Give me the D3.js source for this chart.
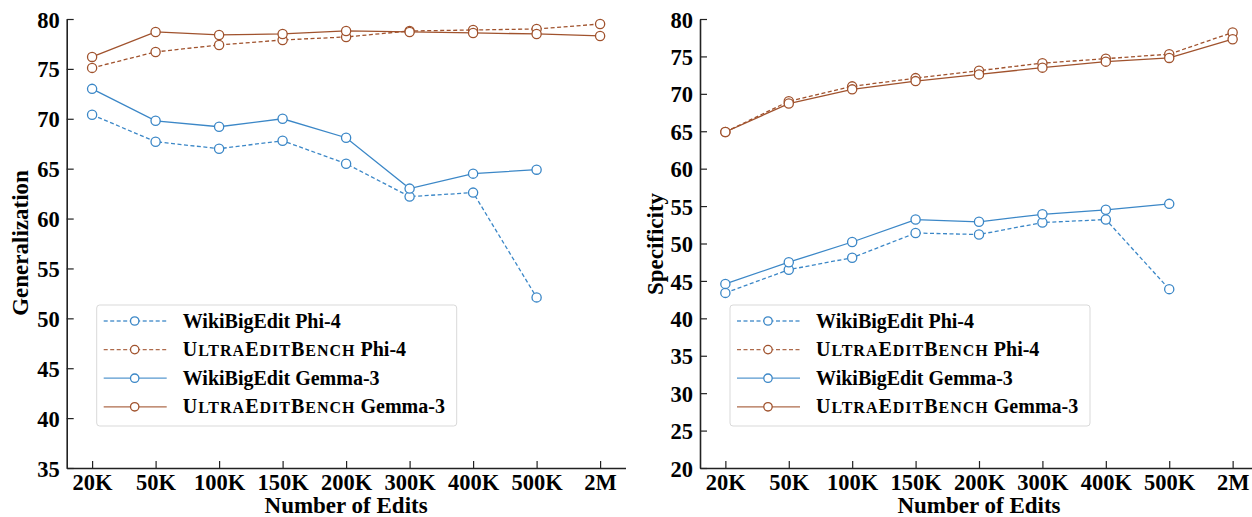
<!DOCTYPE html>
<html>
<head>
<meta charset="utf-8">
<script src="https://cdn.jsdelivr.net/npm/d3@7"></script>
<style>
  body { margin: 0; background: #fff; }
</style>
</head>
<body>
<svg id="chart" width="1252" height="517"></svg>
<script>
// Data
const edits = ['20K', '50K', '100K', '150K', '200K', '300K', '400K', '500K', '2M'];

const genWikiPhi = [70.4, 67.7, 67.0, 67.8, 65.5, 62.2, 62.6, 52.1];
const genUltraPhi = [75.1, 76.7, 77.4, 77.9, 78.2, 78.8, 78.9, 79.0, 79.5];
const genWikiGemma = [73.0, 69.8, 69.2, 70.0, 68.1, 63.0, 64.5, 64.9];
const genUltraGemma = [76.2, 78.7, 78.4, 78.5, 78.8, 78.7, 78.6, 78.5, 78.3];

const specWikiPhi = [43.4, 46.5, 48.1, 51.4, 51.2, 52.8, 53.2, 43.9];
const specUltraPhi = [64.9, 69.0, 71.0, 72.1, 73.1, 74.1, 74.7, 75.3, 78.2];
const specWikiGemma = [44.6, 47.5, 50.2, 53.2, 52.9, 53.9, 54.5, 55.3];
const specUltraGemma = [64.9, 68.7, 70.6, 71.7, 72.6, 73.5, 74.3, 74.8, 77.3];

const genTicks = [35, 40, 45, 50, 55, 60, 65, 70, 75, 80];
const specTicks = [20, 25, 30, 35, 40, 45, 50, 55, 60, 65, 70, 75, 80];

const blue = '#3b87c7';
const brown = '#a0522d';
const serif = "'Liberation Serif', 'Times New Roman', serif";

const legendItems = [
  { name: 'WikiBigEdit', model: 'Phi-4', color: blue, dash: '4,2.5', small: false },
  { name: 'UltraEditBench', model: 'Phi-4', color: brown, dash: '4,2.5', small: true },
  { name: 'WikiBigEdit', model: 'Gemma-3', color: blue, dash: null, small: false },
  { name: 'UltraEditBench', model: 'Gemma-3', color: brown, dash: null, small: true }
];

const svg = d3.select('#chart');

// small caps by hand: capitals full size, lower case drawn as smaller capitals
function addSmallCaps(textSel, str, size) {
  let runs = [];
  for (const ch of str) {
    const big = ch === ch.toUpperCase();
    const last = runs[runs.length - 1];
    if (last && last.big === big) last.s += ch;
    else runs.push({ big: big, s: ch });
  }
  runs.forEach(r => {
    textSel.append('tspan')
      .style('font-size', (r.big ? size : size * 0.8) + 'px')
      .style('letter-spacing', '1px')
      .text(r.s.toUpperCase());
  });
}

function drawPanel(opts) {
  const g = svg.append('g');

  const x = d3.scalePoint()
    .domain(edits)
    .range([opts.left, opts.right])
    .padding(0.4);

  const y = d3.scaleLinear()
    .domain(opts.yDomain)
    .range([opts.bottom, opts.top]);

  // axes (ticks pointing inward, like matplotlib direction='in')
  const xAxis = g.append('g')
    .attr('transform', 'translate(0,' + opts.bottom + ')')
    .call(d3.axisBottom(x).tickSizeInner(-7).tickSizeOuter(0));
  const yAxis = g.append('g')
    .attr('transform', 'translate(' + opts.left + ',0)')
    .call(d3.axisLeft(y).tickValues(opts.ticks).tickSizeInner(-7).tickSizeOuter(0).tickPadding(7));

  [xAxis, yAxis].forEach(a => {
    a.attr('font-family', null).attr('font-size', null);
    a.select('.domain').attr('stroke', '#222').attr('stroke-width', 1.6);
    a.selectAll('.tick line').attr('stroke', '#222').attr('stroke-width', 1.2);
    a.selectAll('.tick text')
      .attr('fill', '#000')
      .style('font-family', serif)
      .style('font-weight', 'bold')
      .style('font-size', '22.5px');
  });
  xAxis.selectAll('.tick text').attr('y', 21.5).attr('dy', 0);
  yAxis.selectAll('.tick text').attr('dy', '0.36em');

  g.append('text')
    .attr('x', (opts.left + opts.right) / 2)
    .attr('y', 513)
    .attr('text-anchor', 'middle')
    .style('font-family', serif)
    .style('font-weight', 'bold')
    .style('font-size', '23px')
    .text('Number of Edits');

  g.append('text')
    .attr('transform', 'translate(' + opts.titleX + ',' + opts.titleY + ') rotate(-90)')
    .attr('text-anchor', 'middle')
    .style('font-family', serif)
    .style('font-weight', 'bold')
    .style('font-size', '23px')
    .text(opts.title);

  const line = d3.line()
    .x((d, i) => x(edits[i]))
    .y(d => y(d));

  opts.series.forEach((vals, k) => {
    const item = legendItems[k];
    g.append('path')
      .datum(vals)
      .attr('fill', 'none')
      .attr('stroke', item.color)
      .attr('stroke-width', 1.3)
      .attr('stroke-dasharray', item.dash)
      .attr('d', line);
  });
  opts.series.forEach((vals, k) => {
    const item = legendItems[k];
    g.selectAll(null)
      .data(vals)
      .enter()
      .append('circle')
      .attr('cx', (d, i) => x(edits[i]))
      .attr('cy', d => y(d))
      .attr('r', 4.6)
      .attr('fill', '#fff')
      .attr('stroke', item.color)
      .attr('stroke-width', 1.3);
  });

  // legend
  const lx = opts.left + 30;
  const ly = 305;
  const lg = g.append('g').attr('transform', 'translate(' + lx + ',' + ly + ')');
  lg.append('rect')
    .attr('x', 0).attr('y', 0)
    .attr('width', opts.legendW).attr('height', 121)
    .attr('rx', 3)
    .attr('fill', '#fff')
    .attr('stroke', '#d9d9d9')
    .attr('stroke-width', 1);

  legendItems.forEach((item, k) => {
    const cy = 16 + k * 28.6;
    lg.append('line')
      .attr('x1', 7).attr('x2', 70)
      .attr('y1', cy).attr('y2', cy)
      .attr('stroke', item.color)
      .attr('stroke-width', 1.3)
      .attr('stroke-dasharray', item.dash)
      .attr('opacity', 0.85);
    lg.append('circle')
      .attr('cx', 38).attr('cy', cy).attr('r', 4.2)
      .attr('fill', '#fff')
      .attr('stroke', item.color)
      .attr('stroke-width', 1.3);
    const t = lg.append('text')
      .attr('x', 86)
      .attr('y', cy + 6.5)
      .style('font-family', serif)
      .style('font-weight', 'bold')
      .style('font-size', '20px');
    if (item.small) addSmallCaps(t, item.name, 20);
    else t.append('tspan').text(item.name);
    t.append('tspan').style('font-size', '20px').style('letter-spacing', '0px').text(' ' + item.model);
  });
}

drawPanel({
  left: 66.7, right: 625.5, top: 19, bottom: 468,
  yDomain: [35, 80], ticks: genTicks,
  title: 'Generalization', titleX: 28, titleY: 243,
  legendW: 360,
  series: [genWikiPhi, genUltraPhi, genWikiGemma, genUltraGemma]
});

drawPanel({
  left: 700, right: 1258, top: 19, bottom: 468,
  yDomain: [20, 80], ticks: specTicks,
  title: 'Specificity', titleX: 663, titleY: 244,
  legendW: 360,
  series: [specWikiPhi, specUltraPhi, specWikiGemma, specUltraGemma]
});
</script>
</body>
</html>
